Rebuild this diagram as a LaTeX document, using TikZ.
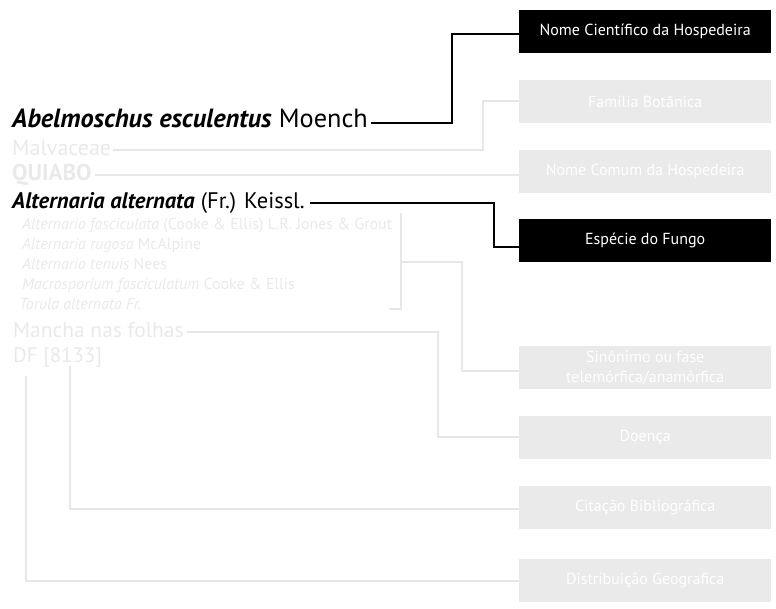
\documentclass[tikz,border=0pt]{standalone}
\usepackage{fontspec}
\setmainfont{PT Sans}
\definecolor{txtgray}{HTML}{E8E9E8}
\definecolor{boxgray}{HTML}{E9EAE9}
\definecolor{linegray}{HTML}{E7E7E7}
\begin{document}
\begin{tikzpicture}[x=1pt,y=-1pt,
  lbl/.style={anchor=base west, inner sep=0pt, text=txtgray},
  hbox/.style={anchor=north west, minimum width=252pt, minimum height=43pt, inner sep=0pt,
    fill=boxgray, text=white, align=center, font=\fontsize{16}{19.5}\selectfont},
  kbox/.style={hbox, fill=black},
  kline/.style={draw=black, line width=2pt},
  gline/.style={draw=linegray, line width=1.6pt}]
\useasboundingbox (0,0) rectangle (776,608);
% boxes
\node[kbox] (nc)   at (519,10)  {Nome Científico da Hospedeira};
\node[hbox] (fam)  at (519,80)  {Família Botânica};
\node[hbox] (ncom) at (519,150) {Nome Comum da Hospedeira};
\node[kbox] (esp)  at (519,219) {Espécie do Fungo};
\node[hbox] (sin)  at (519,346) {Sinônimo ou fase\\telemórfica/anamórfica};
\node[hbox] (doe)  at (519,416) {Doença};
\node[hbox] (cit)  at (519,486) {Citação Bibliográfica};
\node[hbox] (dist) at (519,559) {Distribuição Geografica};
% texts
\node[lbl, text=black, font=\fontsize{26.3}{30}\selectfont] (abel) at (12,127)
  {\textbf{\textit{Abelmoschus esculentus}} Moench};
\node[lbl, font=\fontsize{22}{26}\selectfont] (malv) at (12,155) {Malvaceae};
\node[lbl, font=\fontsize{23}{26}\selectfont\bfseries] (quia) at (12,180) {QUIABO};
\node[lbl, text=black, font=\fontsize{22.5}{26}\selectfont] (alt) at (12,208)
  {\textbf{\textit{Alternaria alternata}} (Fr.) Keissl.};
\node[lbl, font=\fontsize{15.9}{18}\selectfont] (s1) at (22,229) {\textit{Alternaria fasciculata} (Cooke \& Ellis) L.R. Jones \& Grout};
\node[lbl, font=\fontsize{15.9}{18}\selectfont] (s2) at (22,249) {\textit{Alternaria rugosa} McAlpine};
\node[lbl, font=\fontsize{15.9}{18}\selectfont] (s3) at (22,269) {\textit{Alternaria tenuis} Nees};
\node[lbl, font=\fontsize{15.9}{18}\selectfont] (s4) at (22,289) {\textit{Macrosporium fasciculatum} Cooke \& Ellis};
\node[lbl, font=\fontsize{15.9}{18}\selectfont] (s5) at (19,309) {\textit{Torula alternata Fr.}};
\node[lbl, font=\fontsize{21.5}{26}\selectfont] (manc) at (13,337) {Mancha nas folhas};
\node[lbl, font=\fontsize{21}{26}\selectfont] (df) at (13,362) {DF [8133]};
% connector start points
\coordinate (a1) at ([xshift=3pt]abel.base east);
\coordinate (m1) at ([xshift=2pt]malv.base east);
\coordinate (q1) at ([xshift=3pt]quia.base east);
\coordinate (t1) at ([xshift=5pt]alt.base east);
\coordinate (n1) at ([xshift=3pt]manc.base east);
% connectors
\draw[kline] (a1 |- 0,123) -| (452,34) -- (nc.west |- 0,34);
\draw[gline] (m1 |- 0,150) -| (483,101) -- (fam.west |- 0,101);
\draw[gline] (q1 |- 0,175) -- (ncom.west |- 0,175);
\draw[kline] (t1 |- 0,203) -| (494,247) -- (esp.west |- 0,247);
\draw[gline] (389,309) -- (401,309) -- (401,213);
\draw[gline] (401,262) -| (462,371) -- (sin.west |- 0,371);
\draw[gline] (n1 |- 0,332) -| (438,437) -- (doe.west |- 0,437);
\draw[gline] (70,366) |- (cit.west |- 0,509);
\draw[gline] (26,376) |- (dist.west |- 0,581);
\end{tikzpicture}
\end{document}
